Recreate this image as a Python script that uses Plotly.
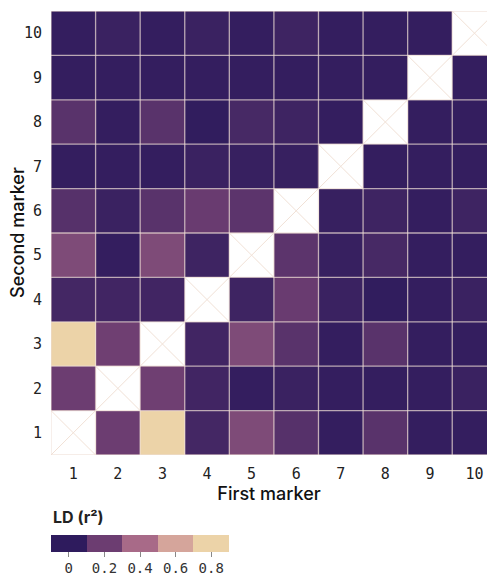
import plotly.graph_objects as go

markers = [1, 2, 3, 4, 5, 6, 7, 8, 9, 10]

# LD (r^2) values, row = second marker (1..10), column = first marker (1..10)
ld_r1 = [None, 0.20, 0.80, 0.07, 0.26, 0.13, 0.02, 0.14, 0.02, 0.02]
ld_r2 = [0.20, None, 0.21, 0.06, 0.02, 0.04, 0.02, 0.02, 0.02, 0.04]
ld_r3 = [0.80, 0.21, None, 0.06, 0.26, 0.14, 0.02, 0.14, 0.02, 0.02]
ld_r4 = [0.07, 0.06, 0.06, None, 0.05, 0.19, 0.04, 0.01, 0.02, 0.04]
ld_r5 = [0.26, 0.02, 0.26, 0.05, None, 0.15, 0.03, 0.08, 0.02, 0.02]
ld_r6 = [0.13, 0.04, 0.14, 0.19, 0.15, None, 0.03, 0.05, 0.02, 0.05]
ld_r7 = [0.02, 0.02, 0.02, 0.04, 0.03, 0.03, None, 0.02, 0.02, 0.02]
ld_r8 = [0.14, 0.02, 0.14, 0.01, 0.08, 0.05, 0.02, None, 0.02, 0.02]
ld_r9 = [0.02, 0.02, 0.02, 0.02, 0.02, 0.02, 0.02, 0.02, None, 0.02]
ld_r10 = [0.02, 0.04, 0.02, 0.04, 0.02, 0.05, 0.02, 0.02, 0.02, None]
ld = [ld_r1, ld_r2, ld_r3, ld_r4, ld_r5, ld_r6, ld_r7, ld_r8, ld_r9, ld_r10]

x_title = "First marker"
y_title = "Second marker"
legend_title = "LD (r²)"
legend_vals = [0, 0.2, 0.4, 0.6, 0.8]
legend_labels = ["0", "0.2", "0.4", "0.6", "0.8"]
legend_colors = ["#2e1b5d", "#6c3d71", "#a86a88", "#d5a59b", "#ecd3a8"]

MONO = "DejaVu Sans Mono"
SANS = "Inter"

W, H = 487, 580
PL, PT, PB = 51, 11, 455  # plot area left, top, bottom (px)

# continuous scale for the cells
zmin, zmax = legend_vals[0], legend_vals[-1]
cont_scale = [[(v - zmin) / (zmax - zmin), c] for v, c in zip(legend_vals, legend_colors)]

fig = go.Figure()
fig.add_trace(go.Heatmap(
    x=markers, y=markers, z=ld,
    colorscale=cont_scale, zmin=zmin, zmax=zmax,
    showscale=False, hoverongaps=False,
))

# diagonal crosses
cx, cy = [], []
for m in markers:
    cx += [m - 0.5, m + 0.5, None, m - 0.5, m + 0.5, None]
    cy += [m - 0.5, m + 0.5, None, m + 0.5, m - 0.5, None]
fig.add_trace(go.Scatter(x=cx, y=cy, mode="lines",
                         line=dict(color="#f1e1d6", width=1),
                         hoverinfo="skip", showlegend=False))

# cell borders
gx, gy = [], []
lo, hi = markers[0] - 0.5, markers[-1] + 0.5
for k in range(len(markers) + 1):
    b = markers[0] - 0.5 + k
    gx += [b, b, None, lo, hi, None]
    gy += [lo, hi, None, b, b, None]
fig.add_trace(go.Scatter(x=gx, y=gy, mode="lines",
                         line=dict(color="rgba(238,222,214,0.72)", width=1.3),
                         hoverinfo="skip", showlegend=False))

# discrete legend colour bar
n = len(legend_vals)
step = legend_vals[1] - legend_vals[0]
bmin, bmax = legend_vals[0] - step / 2, legend_vals[-1] + step / 2
disc_scale = []
for i, c in enumerate(legend_colors):
    disc_scale.append([i / n, c])
    disc_scale.append([(i + 1) / n, c])
fig.add_trace(go.Scatter(
    x=[None], y=[None], mode="markers", showlegend=False, hoverinfo="skip",
    marker=dict(
        color=[legend_vals[0]], colorscale=disc_scale, cmin=bmin, cmax=bmax,
        showscale=True,
        colorbar=dict(
            orientation="h", xref="container", yref="container",
            x=(PL + 6) / W, xanchor="left", y=1 - 535 / H, yanchor="top",
            lenmode="pixels", len=178, thickness=17,
            xpad=0, ypad=0, outlinewidth=0,
            tickvals=legend_vals, ticktext=legend_labels,
            ticks="outside", ticklen=5, tickwidth=1.2, tickcolor="#888888",
            tickfont=dict(family=MONO, size=14, color="#333333"),
        ),
    ),
))

fig.add_annotation(
    text=legend_title, xref="paper", yref="paper",
    x=0, xanchor="left", y=1 - (517 - PT) / (PB - PT), yanchor="middle",
    showarrow=False,
    font=dict(family=SANS, size=16, color="#222222", weight=700),
)
fig.add_annotation(
    text=y_title, xref="paper", yref="paper",
    x=-(PL - 17) / (W - PL), xanchor="center", y=0.5, yanchor="middle",
    textangle=-90, showarrow=False,
    font=dict(family=SANS, size=18, color="#111111", weight=500),
)

fig.update_layout(
    width=W, height=H,
    margin=dict(l=PL, r=0, t=PT, b=H - PB),
    plot_bgcolor="white", paper_bgcolor="white",
    xaxis=dict(
        range=[0.5, 10.28], tickvals=markers, ticktext=[str(m) for m in markers],
        showgrid=False, zeroline=False, showline=False, ticks="",
        tickfont=dict(family=MONO, size=15, color="#222222"),
        ticklabelstandoff=8, automargin=False,
        title=dict(text=x_title, standoff=4,
                   font=dict(family=SANS, size=18, color="#111111", weight=500)),
        fixedrange=True,
    ),
    yaxis=dict(
        range=[0.5, 10.5], tickvals=markers, ticktext=[str(m) for m in markers],
        showgrid=False, zeroline=False, showline=False, ticks="",
        tickfont=dict(family=MONO, size=15, color="#222222"),
        ticklabelstandoff=8, automargin=False,
        fixedrange=True,
    ),
)

fig.write_html(
    "out.html",
    config={"displayModeBar": False},
    post_script="document.body.style.margin='0';document.body.style.overflow='hidden';",
)
